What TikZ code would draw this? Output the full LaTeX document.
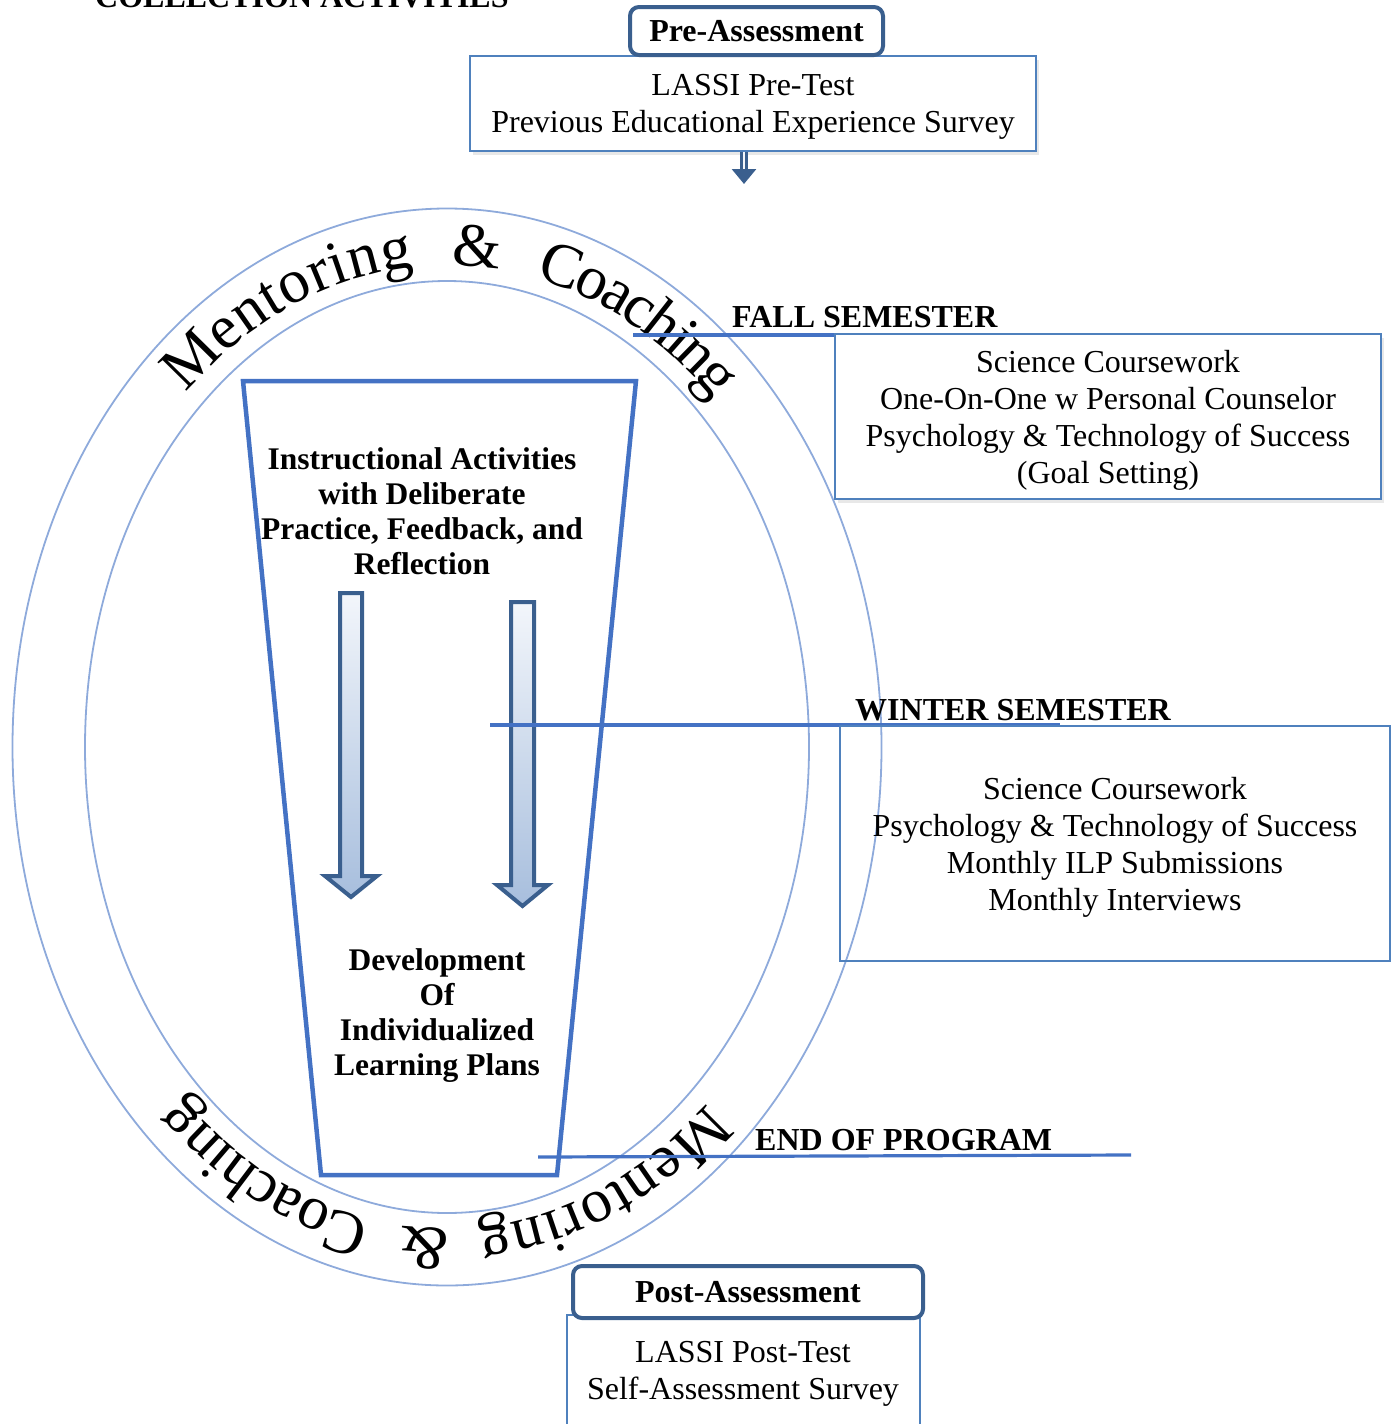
\documentclass[tikz,border=0pt]{standalone}
\usepackage{fontspec}
\setmainfont{Liberation Serif}
\usetikzlibrary{arrows.meta,shadows}
\definecolor{darkbox}{HTML}{3A5F8E}
\definecolor{thinblue}{HTML}{4F81BD}
\definecolor{lineblue}{HTML}{4472C4}
\definecolor{ringblue}{HTML}{8EAADB}
\definecolor{arrowtop}{HTML}{F3F6FB}
\definecolor{arrowbot}{HTML}{A7BEDD}
\newcommand{\bodyfont}{\fontsize{32}{37}\selectfont}
\newcommand{\headfont}{\fontsize{32}{35}\selectfont\bfseries}
\newcommand{\innerfont}{\fontsize{31.5}{35}\selectfont\bfseries}
\newcommand{\ringfont}{\fontsize{62}{62}\selectfont}
% one word set letter by letter on the ellipse (ring): start angle, advance per em, letters
\newcommand{\ringword}[3]{%
  \xdef\ringang{#1}%
  \foreach \ch/\w in {#3}{%
    \pgfmathsetmacro\pxdeg{sqrt((3.85*sin(\ringang))^2+(4.82*cos(\ringang))^2)*100*pi/180}
    \pgfmathsetmacro\midang{\ringang+\w*#2/2/\pxdeg}
    \pgfmathsetmacro\rot{atan2(-4.82*cos(\midang),-3.85*sin(\midang))}
    \node[ringchar, rotate=\rot] at ([shift={(\midang:385 and 482)}]ring) {\ch};
    \pgfmathsetmacro\nextang{\ringang+\w*#2/\pxdeg}
    \global\let\ringang\nextang
  }%
}
\tikzset{
  headbox/.style={draw=darkbox, line width=4pt, rounded corners=9pt, fill=white, font=\headfont},
  listbox/.style={draw=thinblue, line width=1.6pt, align=center, font=\bodyfont, text depth=-2pt},
  boxshadow/.style={fill=white, drop shadow={opacity=0.18, shadow xshift=3pt, shadow yshift=-4pt}},
  thinframe/.style={draw=thinblue, line width=1.6pt},
  bodytext/.style={align=center, font=\bodyfont},
  innertext/.style={align=center, font=\innerfont},
  semlabel/.style={anchor=base west, inner sep=0pt, font=\headfont},
  ringline/.style={draw=ringblue, line width=1.8pt},
  ringchar/.style={anchor=base, inner sep=0pt, font=\ringfont},
  trapline/.style={draw=lineblue, line width=4.5pt, line join=miter},
  semline/.style={draw=lineblue, line width=3.2pt},
  blockarrow/.style={draw=darkbox, line width=4pt, line join=miter, top color=arrowtop, bottom color=arrowbot},
  smallarrow/.style={draw=darkbox, double=arrowtop, double distance=2pt, line width=3pt, -{Triangle[width=24pt,length=15pt]}}
}

\begin{document}
\begin{tikzpicture}[x=1pt, y=-1pt]
	%%%%% START %%%%%
	\useasboundingbox (0,0) rectangle (1396,1424);
	
	\node[semlabel] (title) at (95,8) {COLLECTION ACTIVITIES};
	
	% pre assessment
	\node[listbox, boxshadow, minimum width=566pt, minimum height=95pt] (prebox) at (753,103.5) {LASSI Pre-Test\\Previous Educational Experience Survey};
	\node[headbox, minimum width=253pt, minimum height=48pt] (prehead) at (756.5,31) {Pre-Assessment};
	\coordinate (preend) at (744,184);
	\draw[smallarrow] (prebox.south -| preend) -- (preend);
	
	% mentoring and coaching ring
	\coordinate (ring) at (447,747);
	\draw[ringline] (ring) ellipse [x radius=434.5, y radius=538.5];
	\draw[ringline] (ring) ellipse [x radius=362, y radius=466];
	
	\ringword{-132.8}{64}{M/0.889,e/0.444,n/0.5,t/0.278,o/0.5,r/0.333,i/0.278,n/0.5,g/0.5}
	\ringword{-89.4}{64}{{\&}/0.778}
	\ringword{-76.4}{56}{C/0.667,o/0.5,a/0.444,c/0.444,h/0.5,i/0.278,n/0.5,g/0.5}
	
	\ringword{47.5}{64}{M/0.889,e/0.444,n/0.5,t/0.278,o/0.5,r/0.333,i/0.278,n/0.5,g/0.5}
	\ringword{89.5}{64}{{\&}/0.778}
	\ringword{101.5}{59}{C/0.667,o/0.5,a/0.444,c/0.444,h/0.5,i/0.278,n/0.5,g/0.5}
	
	% instructional funnel
	\draw[trapline] (243,381) -- (636,381) -- (557,1175) -- (321,1175) -- cycle;
	\node[innertext] (instr) at (422,511) {Instructional Activities\\with Deliberate\\Practice, Feedback, and\\Reflection};
	\node[innertext] (ilp) at (437,1015.5) {Development\\Of\\Individualized\\Learning Plans};
	
	\draw[blockarrow] (340,593) -- (362,593) -- (362,876) -- (377,876) -- (351,897) -- (325,876) -- (340,876) -- cycle;
	\draw[blockarrow] (511,602) -- (534,602) -- (534,885) -- (548,885) -- (522.5,906) -- (497,885) -- (511,885) -- cycle;
	
	% fall semester
	\draw[semline] (633,335) -- (1205,335);
	\node[semlabel] (fall) at (732,327) {FALL SEMESTER};
	\node[listbox, boxshadow, minimum width=546pt, minimum height=165pt] (fallbox) at (1108,416.5) {Science Coursework\\One-On-One w Personal Counselor\\Psychology \& Technology of Success\\(Goal Setting)};
	
	% winter semester
	\draw[semline] (490,725) -- (1060,725);
	\node[semlabel] (winter) at (855,720) {WINTER SEMESTER};
	\node[listbox, minimum width=550pt, minimum height=235pt] (winterbox) at (1115,843.5) {Science Coursework\\Psychology \& Technology of Success\\Monthly ILP Submissions\\Monthly Interviews};
	
	% end of program
	\draw[semline] (538,1157) -- (1131,1155);
	\node[semlabel] (endprog) at (755,1150) {END OF PROGRAM};
	
	% post assessment
	\draw[thinframe] (567,1315) rectangle (920,1440);
	\node[headbox, minimum width=350pt, minimum height=52pt] (posthead) at (748,1292) {Post-Assessment};
	\node[bodytext] (posttext) at (743,1374) {LASSI Post-Test\\Self-Assessment Survey};
	
	%%%%% END %%%%%
\end{tikzpicture}
\end{document}
